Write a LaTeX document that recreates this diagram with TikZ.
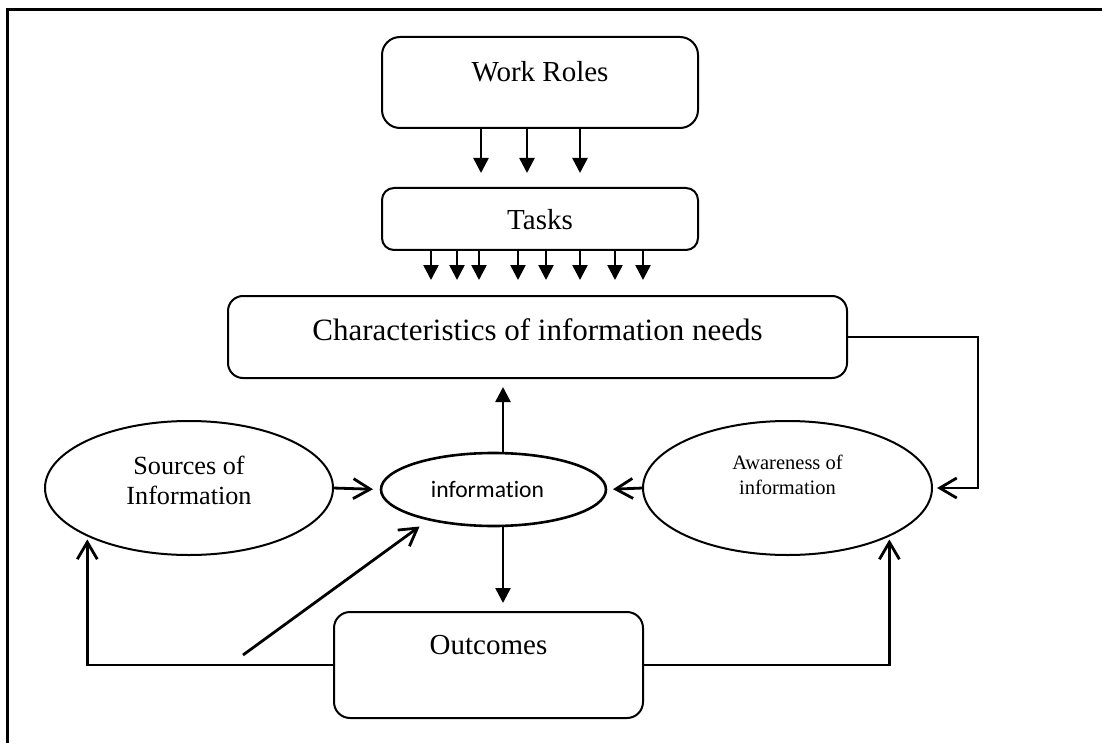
\documentclass[tikz,border=0pt]{standalone}
\usepackage{fontspec}
\setmainfont{Liberation Serif}
\newfontfamily\calibri[Ligatures=NoCommon]{Carlito}
\usetikzlibrary{shapes.geometric, arrows.meta, positioning, calc}
\tikzset{
    box/.style={rectangle, rounded corners=8pt, draw, line width=1pt, inner sep=0pt, outer sep=0pt},
    oval/.style={ellipse, draw, line width=1pt, inner sep=0pt, outer sep=0pt},
    flow/.style={-{Triangle[length=7.5pt,width=7.5pt]}, line width=1.3pt},
    feed/.style={-{Straight Barb[length=8.5pt,width=10pt]}, line width=1.4pt},
    bigtext/.style={font=\fontsize{14.5}{17}\selectfont, align=center}
}

\begin{document}
\begin{tikzpicture}[
    x=0.5pt, y=-0.5pt,
    midtext/.style={font=\fontsize{13.1}{15}\selectfont, align=center},
    smalltext/.style={font=\fontsize{10.25}{12.5}\selectfont, align=center}
]
    \useasboundingbox (0,0) rectangle (1102,743);
    % outer frame
    \draw[line width=1.5pt] (7,743) -- (7,10) -- (1102,10);

    % boxes
    \node[box, minimum width=158pt, minimum height=45.5pt, rounded corners=9pt,
        label={[bigtext, yshift=5.25pt]center:Work Roles}] (roles) at (540,82.5) {};
    \node[box, minimum width=158pt, minimum height=31pt, rounded corners=6pt,
        label={[bigtext, yshift=-0.5pt]center:Tasks}] (tasks) at (540,219) {};
    \node[box, minimum width=309.5pt, minimum height=41pt, rounded corners=7.5pt,
        label={[bigtext, font=\fontsize{15.5}{18}\selectfont, yshift=3.5pt]center:Characteristics of information needs}] (char) at (537.5,337) {};
    \node[box, minimum width=154.5pt, minimum height=53pt,
        label={[bigtext, yshift=10pt]center:Outcomes}] (outc) at (488.5,665) {};

    % ovals
    \node[oval, minimum width=144pt, minimum height=67pt,
        label={[midtext, yshift=4pt]center:Sources of\\Information}] (srcs) at (189,488) {};
    \node[oval, line width=1.3pt, minimum width=112.5pt, minimum height=36.5pt,
        label={[font=\calibri\fontsize{11.8}{14}\selectfont, xshift=-3pt]center:information}] (info) at (493.5,489.5) {};
    \node[oval, minimum width=144.5pt, minimum height=67pt,
        label={[smalltext, yshift=6.5pt]center:Awareness of\\information}] (aware) at (787.5,488) {};

    % roles to tasks, tasks to characteristics
    \foreach \dx in {-59,-13,40}
        \draw[flow, shorten >=7.5pt] ($(roles.south)+(\dx,0)$) -- ($(tasks.north)+(\dx,0)$);
    \foreach \dx in {-109,-83,-61,-22,6,40,75,103}
        \draw[flow, shorten >=8pt] ($(tasks.south)+(\dx,0)$) -- ($(char.north)+(\dx+2.5,0)$);

    % information up and down
    \coordinate (up) at ($(info.north)+(9.5,0)$);
    \coordinate (dn) at ($(info.south)+(9.5,0)$);
    \draw[flow, shorten >=4.5pt] (up) -- (up |- char.south);
    \draw[flow, shorten >=4.5pt] (dn) -- (dn |- outc.north);

    % into information
    \draw[feed, shorten >=4pt] (srcs.east) -- (info.west);
    \draw[feed, shorten >=3.5pt] (aware.west) -- (info.east);
    \coordinate (fb) at (243,655);
    \draw[feed, shorten >=6pt] (fb) -- (info.205);

    % loops
    \draw[feed, shorten >=2.5pt] (char.east) -- ++(131,0) |- (aware.east);
    \draw[feed, shorten >=2pt] (outc.west) -| (srcs.205);
    \draw[feed, shorten >=2pt] (outc.east) -| (aware.335);
\end{tikzpicture}
\end{document}
